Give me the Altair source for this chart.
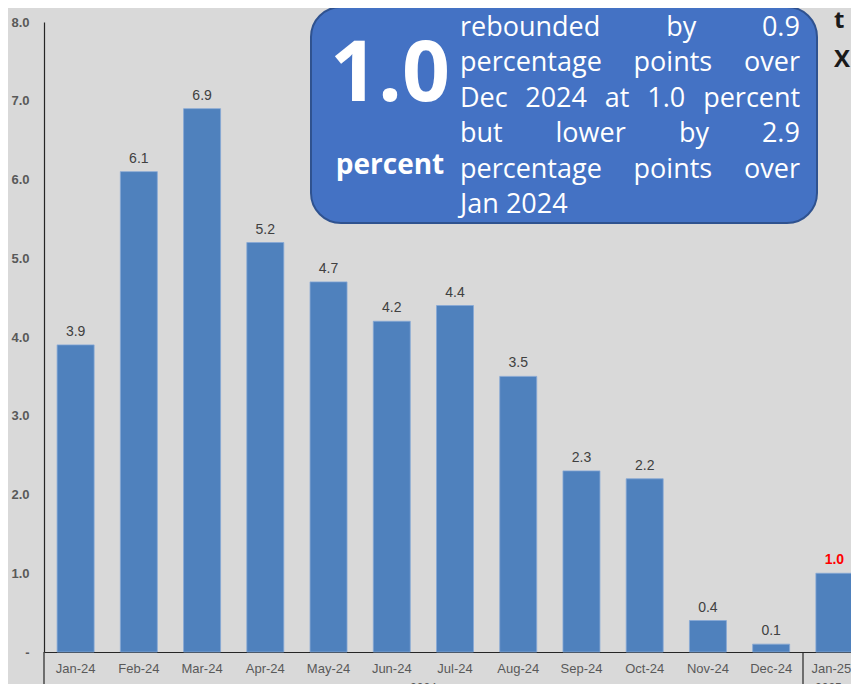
import altair as alt
import pandas as pd

months = ["Jan-24", "Feb-24", "Mar-24", "Apr-24", "May-24", "Jun-24", "Jul-24",
          "Aug-24", "Sep-24", "Oct-24", "Nov-24", "Dec-24", "Jan-25"]
values = [3.9, 6.1, 6.9, 5.2, 4.7, 4.2, 4.4, 3.5, 2.3, 2.2, 0.4, 0.1, 1.0]
years = ["2024", "2025"]
year_anchor = ["Jul-24", "Jan-25"]
y_ticks = [0, 1, 2, 3, 4, 5, 6, 7, 8]

big_number = "1.0"
big_unit = "percent"
body_lines = [
    "rebounded by 0.9",
    "percentage points over",
    "Dec 2024 at 1.0 percent",
    "but lower by 2.9",
    "percentage points over",
    "Jan 2024",
]

W, H = 807, 630          # visible plot area; the band range runs past the right edge
RANGE_W = 822
BAR = "#4F81BD"
LABEL = "#595959"
FONT = "Liberation Sans"

df = pd.DataFrame({"month": months, "value": values})
df["label"] = df["value"].map(lambda v: f"{v:.1f}")
last = months[-1]

xscale = alt.Scale(domain=months, range=[0, RANGE_W], paddingInner=0.415, paddingOuter=0.2075)
yscale = alt.Scale(domain=[0, 8], nice=False)

base = alt.Chart(df)

bars = base.mark_bar(color=BAR, stroke="#86A8D6", strokeWidth=0.8).encode(
    x=alt.X("month:N", scale=xscale, sort=months, title=None,
            axis=alt.Axis(labelAngle=0, ticks=False, labelPadding=10, labelFont=FONT,
                          labelFontSize=13, labelColor=LABEL, domainColor="#262626",
                          domainWidth=1.2,
                          labelOffset={"condition": {"test": f"datum.value == '{last}'",
                                                     "value": -3}, "value": 0})),
    y=alt.Y("value:Q", scale=yscale, title=None,
            axis=alt.Axis(values=y_ticks, ticks=False, grid=False, labelPadding=15,
                          labelFont=FONT, labelFontSize=13, labelFontWeight="bold",
                          labelColor=LABEL, domainColor="#262626", domainWidth=1.2,
                          labelExpr="datum.value == 0 ? '-' : format(datum.value, '.1f')")),
)

vals = base.transform_filter(alt.datum.month != last).mark_text(
    baseline="bottom", dy=-6, font=FONT, fontSize=14, color="#404040"
).encode(x=alt.X("month:N", sort=months), y="value:Q", text="label:N")

vals_hi = base.transform_filter(alt.datum.month == last).mark_text(
    baseline="bottom", dy=-6, font=FONT, fontSize=14, fontWeight="bold", color="#FF0000"
).encode(x=alt.X("month:N", sort=months), y="value:Q", text="label:N")

ydf = pd.DataFrame({"year": years, "anchor": year_anchor})
year_2024 = alt.Chart(ydf).transform_filter(alt.datum.year == "2024").mark_text(
    font=FONT, fontSize=12, color=LABEL, baseline="top", dx=-31.6
).encode(x=alt.X("anchor:N", sort=months), y=alt.value(H + 31), text="year:N")
year_2025 = alt.Chart(ydf).transform_filter(alt.datum.year == "2025").mark_text(
    font=FONT, fontSize=12, color=LABEL, baseline="top", dx=-6
).encode(x=alt.X("anchor:N", sort=months), y=alt.value(H + 31), text="year:N")

one = pd.DataFrame({"a": [0]})
sep_left = alt.Chart(one).mark_rule(color="#262626", strokeWidth=1.2).encode(
    x=alt.value(0), y=alt.value(H), y2=alt.value(H + 60))
sep_mid = alt.Chart(one).mark_rule(color="#262626", strokeWidth=1.2).encode(
    x=alt.value(759), y=alt.value(H), y2=alt.value(H + 60))

box = alt.Chart(one).mark_rect(
    fill="#4472C4", stroke="#2F528F", strokeWidth=2, cornerRadius=30
).encode(x=alt.value(267), x2=alt.value(773), y=alt.value(-15), y2=alt.value(201))

big = alt.Chart(one).mark_text(
    text=big_number, font="Open Sans", fontSize=84, fontWeight="bold", color="white",
    align="center", baseline="alphabetic"
).encode(x=alt.value(346), y=alt.value(79))
unit = alt.Chart(one).mark_text(
    text=big_unit, font="Open Sans", fontSize=28, fontWeight="bold", color="white",
    align="center", baseline="alphabetic"
).encode(x=alt.value(346), y=alt.value(152))

# justified text layout (approximate Open Sans advance widths, em units)
cw = {"a": .556, "b": .613, "c": .476, "d": .613, "e": .561, "g": .55, "h": .615,
      "i": .253, "l": .262, "n": .614, "o": .604, "p": .613, "r": .408, "s": .477,
      "t": .353, "u": .614, "v": .501, "w": .778, "y": .5, "D": .716, "J": .27,
      ".": .266}
FS = 27
def wlen(w):
    return sum(cw.get(ch, .572) for ch in w) * FS

left, right = 416, 756
line_y = [14, 49, 85, 120, 156, 191]
rows = []
for i, line in enumerate(body_lines):
    words = line.split()
    widths = [wlen(w) for w in words]
    if i == len(body_lines) - 1:
        gap = 0.26 * FS
    else:
        gap = (right - left - sum(widths)) / (len(words) - 1)
    x = left
    for w, wd in zip(words, widths):
        rows.append({"word": w, "px": x, "py": line_y[i]})
        x += wd + gap
wdf = pd.DataFrame(rows)
body = alt.Chart(wdf).mark_text(
    font="Open Sans", fontSize=FS, color="white", align="left", baseline="alphabetic"
).encode(x=alt.X("px:Q", scale=None), y=alt.Y("py:Q", scale=None), text="word:N")

edge = pd.DataFrame({"t": ["t", "X"], "py": [6, 45]})
edge_txt = alt.Chart(edge).mark_text(
    font="Open Sans", fontSize=24, fontWeight="bold", color="#1A1A1A",
    align="left", baseline="alphabetic"
).encode(x=alt.value(790), y=alt.Y("py:Q", scale=None), text="t:N")

chart = alt.layer(
    bars, vals, vals_hi, year_2024, year_2025, sep_left, sep_mid,
    box, big, unit, body, edge_txt
).properties(
    width=W, height=H,
    autosize=alt.AutoSizeParams(type="none"),
    padding={"left": 36, "top": 14, "right": 0, "bottom": 32},
    background="#D9D9D9",
).configure_view(stroke=None)

chart.save("out.html", embed_options={"renderer": "svg", "actions": False})
